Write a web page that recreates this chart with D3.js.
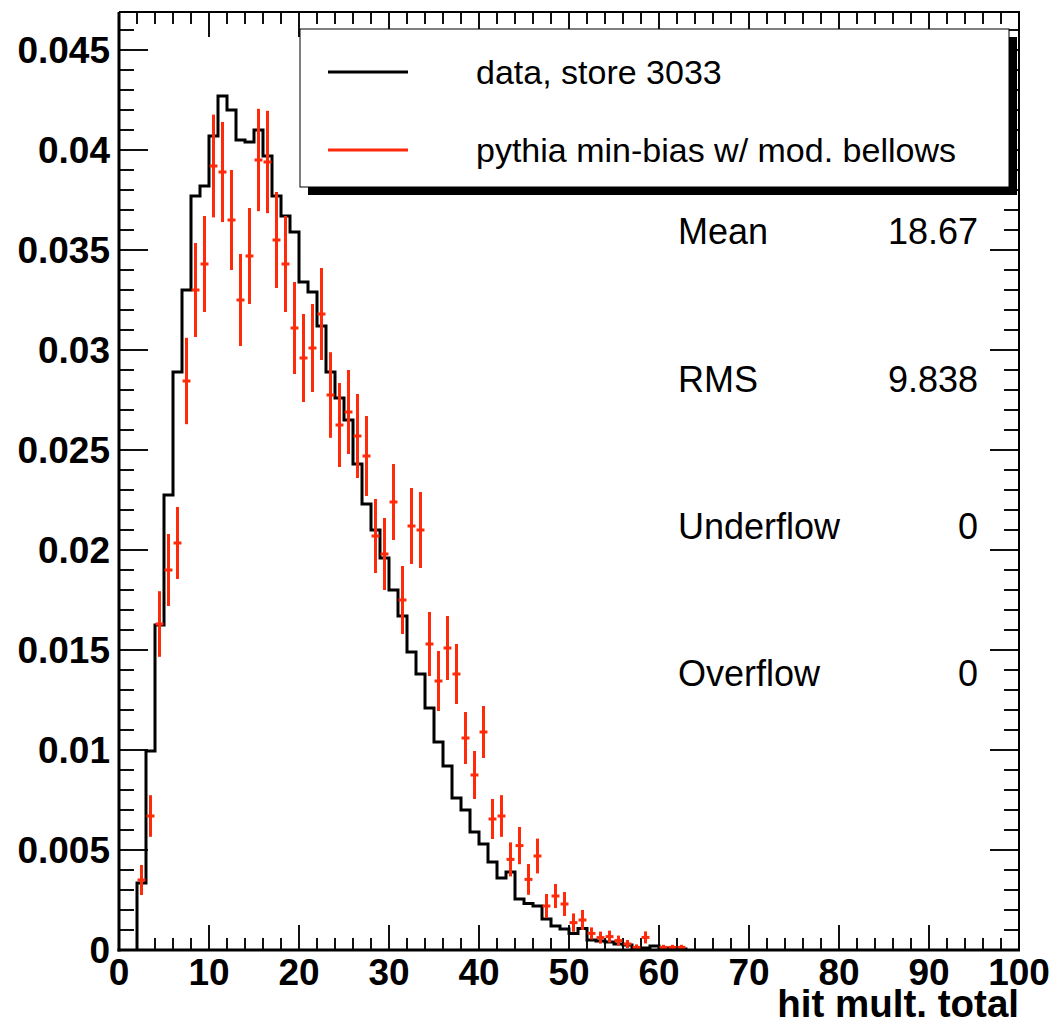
<!DOCTYPE html>
<html>
<head>
<meta charset="utf-8">
<script src="https://cdn.jsdelivr.net/npm/d3@7"></script>
<style>
  html, body { margin: 0; padding: 0; background: #fff; }
  svg { display: block; font-family: "Liberation Sans", Arial, Helvetica, sans-serif; }
</style>
</head>
<body>
<svg id="chart" width="1058" height="1036"></svg>
<script>
// ---------------- data ----------------
// data histogram: first bin low edge is 2, unit bin width
const dataBinStart = 2;
const dataValues = [
  0.00335, 0.00995, 0.01625, 0.02275, 0.0289, 0.0330, 0.0377, 0.0382,
  0.0407, 0.0427, 0.0420, 0.0405, 0.0404, 0.0410, 0.0397, 0.0377,
  0.0367, 0.0359, 0.0334, 0.0329, 0.0312, 0.0289, 0.0276, 0.0265,
  0.0243, 0.0223, 0.0210, 0.0196, 0.0180, 0.0167, 0.0149, 0.0138,
  0.0121, 0.0104, 0.0092, 0.0076, 0.0070, 0.0059, 0.0053, 0.0044,
  0.0036, 0.0039, 0.00255, 0.00233, 0.0022, 0.00155, 0.0012, 0.00105,
  0.00083, 0.00108, 0.0005, 0.00045, 0.0004, 0.0003, 0.00025, 0.0001,
  0.0001, 0.0002, 0.0001, 0.00005, 0.00005
];
// MC points: bin low edges, values and errors
const mcBins = [2,3,4,5,6,7,8,9,10,11,12,13,14,15,16,17,18,19,20,21,22,23,24,25,26,27,28,29,30,31,32,33,34,35,36,37,38,39,40,41,42,43,44,45,46,47,48,49,50,51,52,53,54,55,56,57,58,60,61,62];
const mcValues = [
  0.0035, 0.0067, 0.0163, 0.0190, 0.02035, 0.02845, 0.0330, 0.0343,
  0.0392, 0.0389, 0.0365, 0.0325, 0.0347, 0.0395, 0.0394, 0.0355,
  0.0343, 0.0311, 0.0296, 0.0301, 0.0318, 0.02775, 0.02625, 0.0269,
  0.0257, 0.0247, 0.0207, 0.0198, 0.0224, 0.0175, 0.0212, 0.0210,
  0.0153, 0.01345, 0.0151, 0.0138, 0.0106, 0.00875, 0.0109, 0.00655,
  0.0067, 0.00453, 0.00522, 0.00353, 0.0047, 0.0022, 0.0027, 0.0023,
  0.00137, 0.0015, 0.00083, 0.00062, 0.00067, 0.00047, 0.0003, 0.00013,
  0.00063, 0.00013, 0.00013, 0.00013
];
const mcErrors = [
  0.00075, 0.00104, 0.00164, 0.0018, 0.0018, 0.00216, 0.00235, 0.0024,
  0.00257, 0.0025, 0.0025, 0.0023, 0.0024, 0.00256, 0.00256, 0.0024,
  0.0024, 0.0023, 0.0022, 0.0022, 0.0023, 0.00214, 0.0021, 0.0021,
  0.0021, 0.0020, 0.00185, 0.0018, 0.0019, 0.0017, 0.0019, 0.0019,
  0.0016, 0.0015, 0.0016, 0.0015, 0.0013, 0.0012, 0.0013, 0.0010,
  0.00104, 0.00085, 0.00093, 0.00077, 0.00087, 0.0006, 0.0006, 0.0006,
  0.00046, 0.0005, 0.0003, 0.0003, 0.0003, 0.00025, 0.0002, 0.00015,
  0.0003, 0.00013, 0.00013, 0.00013
];
const xTicks = [0,10,20,30,40,50,60,70,80,90,100];
const xTickLabels = ["0","10","20","30","40","50","60","70","80","90","100"];
const yTicks = [0,0.005,0.01,0.015,0.02,0.025,0.03,0.035,0.04,0.045];
const yTickLabels = ["0","0.005","0.01","0.015","0.02","0.025","0.03","0.035","0.04","0.045"];
const legendLabels = ["data, store 3033", "pythia min-bias w/ mod. bellows"];
const statNames = ["Mean", "RMS", "Underflow", "Overflow"];
const statValues = ["18.67", "9.838", "0", "0"];
const xTitle = "hit mult. total";

// ---------------- layout ----------------
const L = 119, R = 1019, T = 12, B = 950;
const red = "#ff2a0a";
const x = d3.scaleLinear().domain([0, 100]).range([L, R]);
const y = d3.scaleLinear().domain([0, 0.0469]).range([B, T]);
const svg = d3.select("#chart");

// ---------------- ticks ----------------
const tickG = svg.append("g").attr("stroke", "#111").attr("stroke-width", 2);
const xMinor = d3.range(0, 100.001, 2);
const yMinor = d3.range(0, 0.0465, 0.001);
const isMajorX = v => Math.abs(v / 10 - Math.round(v / 10)) < 1e-6;
const isMajorY = v => Math.abs(v / 0.005 - Math.round(v / 0.005)) < 1e-6;

tickG.selectAll(".xb").data(xMinor).join("line").attr("class", "xb")
  .attr("x1", d => x(d)).attr("x2", d => x(d))
  .attr("y1", B).attr("y2", d => B - (isMajorX(d) ? 25 : 12));
tickG.selectAll(".xt").data(xMinor).join("line").attr("class", "xt")
  .attr("x1", d => x(d)).attr("x2", d => x(d))
  .attr("y1", T).attr("y2", d => T + (isMajorX(d) ? 25 : 12));
tickG.selectAll(".yl").data(yMinor).join("line").attr("class", "yl")
  .attr("y1", d => y(d)).attr("y2", d => y(d))
  .attr("x1", L).attr("x2", d => L + (isMajorY(d) ? 29 : 15));
tickG.selectAll(".yr").data(yMinor).join("line").attr("class", "yr")
  .attr("y1", d => y(d)).attr("y2", d => y(d))
  .attr("x1", R).attr("x2", d => R - (isMajorY(d) ? 29 : 15));

// ---------------- data histogram ----------------
const histPts = [[x(dataBinStart), y(0)]];
dataValues.forEach((v, i) => {
  const lo = dataBinStart + i;
  histPts.push([x(lo), y(v)]);
  histPts.push([x(lo + 1), y(v)]);
});
histPts.push([x(dataBinStart + dataValues.length), y(0)]);
svg.append("path")
  .attr("d", d3.line()(histPts))
  .attr("fill", "none").attr("stroke", "#000").attr("stroke-width", 3)
  .attr("stroke-linejoin", "miter");

// ---------------- MC error bars ----------------
const mc = mcBins.map((b, i) => ({ b, v: mcValues[i], e: mcErrors[i] }));
const mcG = svg.append("g").attr("stroke", red).attr("stroke-width", 3);
mcG.selectAll(".ev").data(mc).join("line").attr("class", "ev")
  .attr("x1", d => x(d.b + 0.5)).attr("x2", d => x(d.b + 0.5))
  .attr("y1", d => y(Math.max(0, d.v - d.e))).attr("y2", d => y(d.v + d.e));
mcG.selectAll(".eh").data(mc).join("line").attr("class", "eh")
  .attr("x1", d => x(d.b + 0.06)).attr("x2", d => x(d.b + 0.94))
  .attr("y1", d => y(d.v)).attr("y2", d => y(d.v));

// ---------------- frame ----------------
svg.append("line").attr("x1", L).attr("x2", L).attr("y1", T).attr("y2", B + 1.5)
  .attr("stroke", "#000").attr("stroke-width", 3);
svg.append("line").attr("x1", L - 1.5).attr("x2", R + 1).attr("y1", B).attr("y2", B)
  .attr("stroke", "#000").attr("stroke-width", 3);
svg.append("line").attr("x1", L).attr("x2", R + 1).attr("y1", T).attr("y2", T)
  .attr("stroke", "#000").attr("stroke-width", 2);
svg.append("line").attr("x1", R).attr("x2", R).attr("y1", T).attr("y2", B)
  .attr("stroke", "#000").attr("stroke-width", 2);

// ---------------- tick labels ----------------
svg.append("g").selectAll("text").data(yTicks).join("text")
  .attr("x", L - 9).attr("y", d => y(d)).attr("dy", "0.36em")
  .attr("text-anchor", "end").attr("font-size", 37).attr("font-weight", "bold")
  .text((d, i) => yTickLabels[i]);
svg.append("g").selectAll("text").data(xTicks).join("text")
  .attr("x", d => x(d)).attr("y", 985)
  .attr("text-anchor", "middle").attr("font-size", 37).attr("font-weight", "bold")
  .text((d, i) => xTickLabels[i]);
svg.append("text").attr("x", R).attr("y", 1017)
  .attr("text-anchor", "end").attr("font-size", 38.5).attr("font-weight", "bold")
  .text(xTitle);

// ---------------- legend ----------------
const lg = { x0: 300, y0: 29, x1: 1009, y1: 187 };
svg.append("rect").attr("x", lg.x0 + 8).attr("y", lg.y0 + 8)
  .attr("width", lg.x1 - lg.x0).attr("height", lg.y1 - lg.y0).attr("fill", "#000");
svg.append("rect").attr("x", lg.x0).attr("y", lg.y0)
  .attr("width", lg.x1 - lg.x0).attr("height", lg.y1 - lg.y0)
  .attr("fill", "#fff").attr("stroke", "#000").attr("stroke-width", 1);
const legColors = ["#000", red];
const legY = [72, 150];
legendLabels.forEach((t, i) => {
  svg.append("line").attr("x1", 328).attr("x2", 408).attr("y1", legY[i]).attr("y2", legY[i])
    .attr("stroke", legColors[i]).attr("stroke-width", 3);
  svg.append("text").attr("x", 476).attr("y", legY[i]).attr("dy", "0.35em")
    .attr("font-size", 34).text(t);
});

// ---------------- stats ----------------
const statBase = [244, 392, 539, 686];
statNames.forEach((n, i) => {
  svg.append("text").attr("x", 678).attr("y", statBase[i]).attr("font-size", 36).text(n);
  svg.append("text").attr("x", 978).attr("y", statBase[i]).attr("text-anchor", "end")
    .attr("font-size", 36).text(statValues[i]);
});
</script>
</body>
</html>
